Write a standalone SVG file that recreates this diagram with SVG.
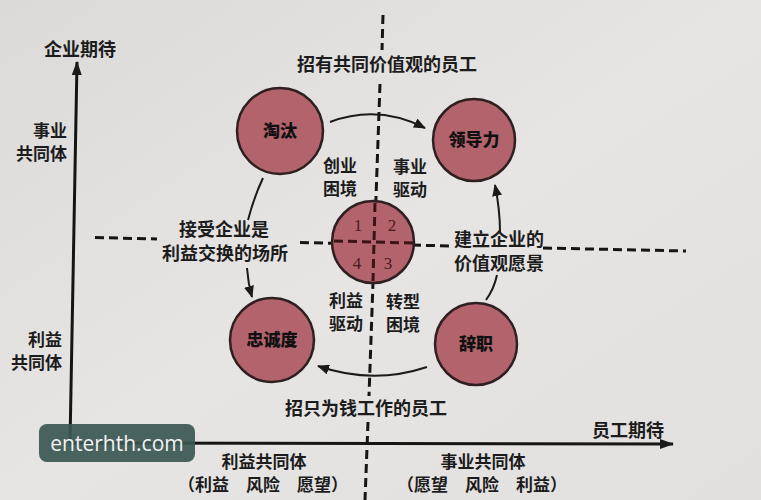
<svg xmlns="http://www.w3.org/2000/svg" width="761" height="500" viewBox="0 0 761 500">
<defs>
<marker id="ah" markerWidth="12" markerHeight="10" refX="11" refY="5" orient="auto" markerUnits="userSpaceOnUse">
<path d="M0,0 L12,5 L0,10 Z" fill="#1a1a1a"/>
</marker>
<marker id="axh" markerWidth="14" markerHeight="10" refX="13" refY="5" orient="auto" markerUnits="userSpaceOnUse">
<path d="M0,0 L14,5 L0,10 Z" fill="#1a1a1a"/>
</marker>
<linearGradient id="bg" x1="0" y1="0" x2="1" y2="1">
<stop offset="0" stop-color="#dcdad9"/>
<stop offset="0.5" stop-color="#e7e5e4"/>
<stop offset="1" stop-color="#e2e0df"/>
</linearGradient>
</defs>
<style>
text{font-family:"Noto Sans CJK SC","Noto Sans CJK TC",sans-serif;fill:#1c1c1c;font-weight:bold;}
.t{font-size:17px;}
.t1{font-size:18px;}
.ax{font-size:18px;}
.cl{font-size:17px;font-weight:900;fill:#111;}
.num{font-size:17px;fill:#4a1c1e;font-weight:normal;font-family:"Liberation Serif",serif;}
.node{fill:#b3636c;stroke:#2e2020;stroke-width:2.5;}
.dash{stroke:#151515;stroke-width:3;stroke-dasharray:9 5;fill:none;}
.dashin{stroke:#3a1416;stroke-width:3;stroke-dasharray:9 5;fill:none;}
.arr{stroke:#1a1a1a;stroke-width:2;fill:none;}
.axis{stroke:#151515;stroke-width:3;fill:none;}
</style>
<rect width="761" height="500" fill="url(#bg)"/>

<g id="axes">
<line class="axis" x1="70" y1="443" x2="77" y2="62" marker-end="url(#axh)"/>
<line class="axis" x1="69" y1="443" x2="673" y2="444" marker-end="url(#axh)"/>
</g>

<g id="grid">
<line class="dash" x1="383" y1="15" x2="382" y2="50"/>
<line class="dash" x1="380" y1="84" x2="369" y2="396"/>
<line class="dash" x1="368" y1="422" x2="365" y2="500"/>
<line class="dash" x1="95" y1="237.5" x2="157" y2="239"/>
<line class="dash" x1="300" y1="242.5" x2="452" y2="246"/>
<line class="dash" x1="543" y1="248" x2="686" y2="251"/>
</g>

<g id="n-center">
<circle class="node" cx="373" cy="242" r="41"/>
<line class="dashin" x1="375" y1="203" x2="373" y2="281"/>
<line class="dashin" x1="334" y1="241" x2="413" y2="243"/>
<text class="num" x="358" y="231" text-anchor="middle">1</text>
<text class="num" x="392" y="231" text-anchor="middle">2</text>
<text class="num" x="357" y="269" text-anchor="middle">4</text>
<text class="num" x="388" y="269" text-anchor="middle">3</text>
</g>

<g id="n-taotai">
<circle class="node" cx="280" cy="131" r="43"/>
<text class="cl" x="280" y="137" text-anchor="middle">淘汰</text>
</g>
<g id="n-lingdaoli">
<circle class="node" cx="474" cy="140" r="41"/>
<text class="cl" x="474" y="146" text-anchor="middle">领导力</text>
</g>
<g id="n-zhongchengdu">
<circle class="node" cx="272" cy="340" r="42"/>
<text class="cl" x="272" y="346" text-anchor="middle">忠诚度</text>
</g>
<g id="n-cizhi">
<circle class="node" cx="476" cy="344" r="41"/>
<text class="cl" x="476" y="350" text-anchor="middle">辞职</text>
</g>

<g id="connectors">
<path class="arr" d="M330,122 Q378,104 425,128" marker-end="url(#ah)"/>
<path class="arr" d="M263,178 Q254,197 248,220"/>
<path class="arr" d="M247,268 Q248,283 252,297" marker-end="url(#ah)"/>
<path class="arr" d="M486,300 Q494,289 497,275"/>
<path class="arr" d="M500,232 Q500,210 495,185" marker-end="url(#ah)"/>
<path class="arr" d="M427,367 Q373,385 318,366" marker-end="url(#ah)"/>
</g>

<g id="labels">
<text class="ax" x="80" y="56" text-anchor="middle">企业期待</text>
<text class="t" x="67" y="137" text-anchor="end" font-weight="normal">事业</text>
<text class="t" x="67" y="160" text-anchor="end" font-weight="normal">共同体</text>
<text class="t" x="62" y="346" text-anchor="end" font-weight="normal">利益</text>
<text class="t" x="62" y="369" text-anchor="end" font-weight="normal">共同体</text>
<text class="ax" x="628" y="437" text-anchor="middle">员工期待</text>

<text class="t1" x="387" y="71" text-anchor="middle">招有共同价值观的员工</text>
<text class="t" x="340" y="172" text-anchor="middle">创业</text>
<text class="t" x="340" y="195" text-anchor="middle">困境</text>
<text class="t" x="410" y="173" text-anchor="middle">事业</text>
<text class="t" x="410" y="196" text-anchor="middle">驱动</text>
<text class="t1" x="224" y="236" text-anchor="middle">接受企业是</text>
<text class="t1" x="225" y="260" text-anchor="middle">利益交换的场所</text>
<text class="t1" x="499" y="246" text-anchor="middle">建立企业的</text>
<text class="t1" x="499" y="270" text-anchor="middle">价值观愿景</text>
<text class="t" x="346" y="307" text-anchor="middle">利益</text>
<text class="t" x="346" y="330" text-anchor="middle">驱动</text>
<text class="t" x="403" y="308" text-anchor="middle">转型</text>
<text class="t" x="403" y="331" text-anchor="middle">困境</text>
<text class="t1" x="366" y="415" text-anchor="middle">招只为钱工作的员工</text>
<text class="t" x="264" y="468" text-anchor="middle">利益共同体</text>
<text class="t" x="263" y="491" text-anchor="middle">（利益　风险　愿望）</text>
<text class="t" x="483" y="468" text-anchor="middle">事业共同体</text>
<text class="t" x="482" y="491" text-anchor="middle">（愿望　风险　利益）</text>
</g>

<g id="watermark">
<rect x="39" y="424" width="156" height="38" rx="8" fill="#3b5752" fill-opacity="0.92"/>
<text x="117" y="451" text-anchor="middle" style="font-family:'Open Sans','Noto Sans',sans-serif;font-weight:normal;font-size:21px;fill:#f2f2f2;">enterhth.com</text>
</g>
</svg>
